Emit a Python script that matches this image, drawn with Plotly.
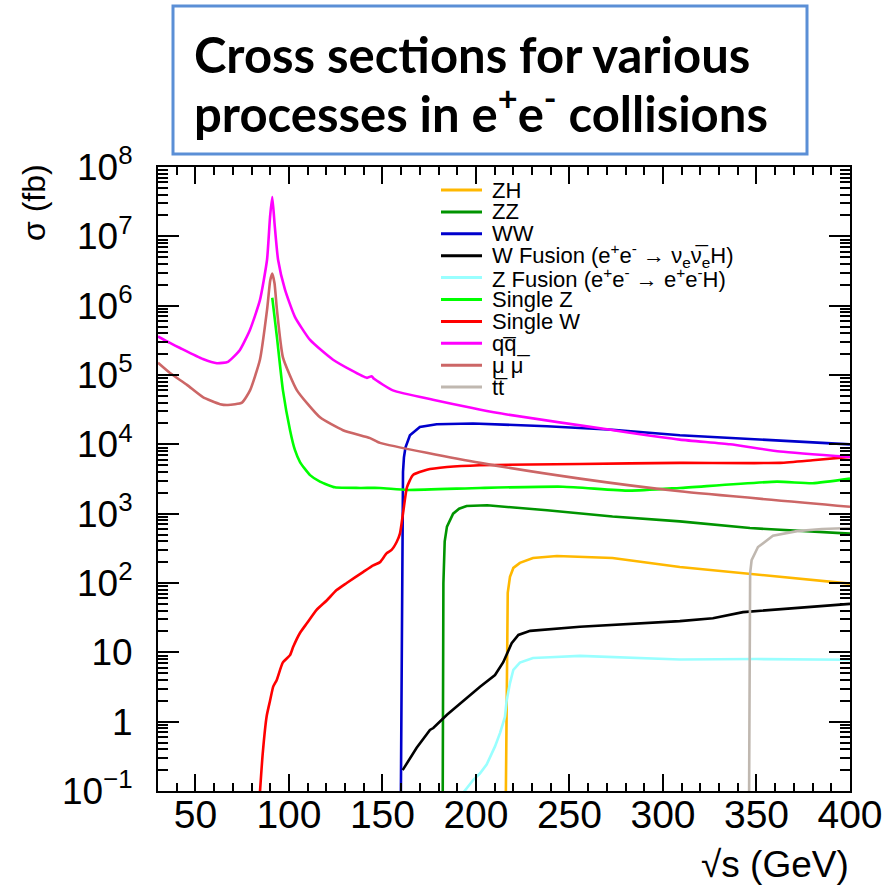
import plotly.graph_objects as go

# ---------------- data ----------------
zh_x = [215.9, 216.2, 216.6, 217.0, 218.2, 220.0, 223.5, 230.5, 243.3, 273.0, 309.0, 346.5, 400.0]
zh_y = [0.05, 1.0, 20, 72, 123, 165, 195, 229, 245, 229, 170, 135, 98]

zz_x = [182.2, 182.4, 182.6, 183.3, 184.5, 187.8, 191.0, 195.0, 206.0, 238.0, 273.0, 309.0, 346.5, 400.0]
zz_y = [0.05, 10, 100, 400, 650, 1000, 1180, 1290, 1320, 1120, 910, 775, 620, 515]

ww_x = [159.8, 160.1, 160.4, 160.7, 161.0, 161.5, 162.3, 164.7, 170.0, 179.0, 198.4, 238.0, 273.0, 309.0, 362.6, 400.0]
ww_y = [0.05, 1.0, 100, 2000, 4000, 6500, 9000, 13500, 17800, 19500, 20000, 18200, 16200, 13500, 11200, 10000]

wfus_x = [160.8, 166.3, 168.3, 175.4, 177.2, 184.5, 193.2, 202.2, 210.2, 214.6, 219.1, 222.7, 229.0,
          255.6, 309.0, 326.7, 342.8, 362.6, 384.0, 400.0]
wfus_y = [0.2, 0.35, 0.42, 0.76, 0.81, 1.26, 2.0, 3.2, 4.7, 7.2, 13.5, 17.8, 20.4,
          23.4, 28.2, 31.0, 38.0, 41.7, 46.8, 50.0]

zfus_x = [192.6, 198.6, 202.2, 205.7, 210.2, 212.9, 215.5, 216.4, 218.2, 220.0, 223.5, 230.5, 239.6,
          255.6, 309.0, 350.0, 400.0]
zfus_y = [0.09, 0.145, 0.18, 0.24, 0.44, 0.69, 1.17, 2.0, 3.6, 5.6, 7.1, 8.3, 8.5,
          8.9, 7.9, 8.0, 7.8]

sz_x = [91.1, 93.6, 96.8, 100.6, 103.2, 106.0, 111.3, 116.6, 124.6, 138.0, 148.7, 163.0, 202.0,
        246.5, 282.0, 309.0, 361.0, 380.0, 400.0]
sz_y = [1.3e6, 3.5e5, 6.0e4, 1.6e4, 8.3e3, 5.5e3, 3.6e3, 2.9e3, 2.4e3, 2.35e3, 2.35e3, 2.2e3, 2.35e3,
        2.45e3, 2.15e3, 2.35e3, 2.9e3, 2.75e3, 3.2e3]

sw_x = [83.8, 86.0, 88.1, 89.9, 91.6, 93.5, 96.7, 100.6, 102.3, 105.9, 109.5, 114.8, 120.2, 125.5,
        130.9, 139.8, 145.1, 148.7, 152.3, 154.9, 157.6, 159.4, 161.2, 163.1, 166.3, 173.8,
        184.5, 202.0, 255.6, 309.0, 362.6, 380.0, 400.0]
sw_y = [0.05, 0.35, 1.2, 2.0, 3.2, 4.0, 7.1, 9.1, 12, 19, 26, 41, 56, 79,
        100, 145, 180, 200, 270, 300, 390, 520, 1100, 2400, 3600, 4300,
        4700, 5000, 5200, 5400, 5400, 5900, 6600]

qq_x = [30.0, 36.4, 41.8, 54.0, 61.5, 67.4, 73.8, 79.2, 84.5, 88.3, 89.9, 91.1, 92.3, 94.2, 97.9,
        103.2, 111.3, 123.6, 141.7, 144.2, 145.5, 155.6, 177.0, 212.9, 273.3, 309.0, 335.8, 362.6, 400.0]
qq_y = [3.6e5, 2.9e5, 2.45e5, 1.7e5, 1.48e5, 1.55e5, 2.3e5, 4.5e5, 1.2e6, 4.6e6, 1.9e7, 3.7e7, 1.55e7,
        4.6e6, 1.7e6, 6.9e5, 3.2e5, 1.66e5, 9.1e4, 9.6e4, 8.8e4, 6.0e4, 4.4e4, 2.8e4, 1.6e4, 1.17e4,
        1.0e4, 7.9e3, 6.6e3]

mm_x = [30.0, 36.4, 45.5, 54.0, 63.2, 67.4, 74.9, 79.2, 84.5, 88.3, 90.0, 91.1, 92.3, 93.6, 96.8,
        104.3, 116.6, 128.9, 143.4, 148.7, 202.2, 255.6, 309.0, 400.0]
mm_y = [1.5e5, 1.07e5, 7.2e4, 4.8e4, 3.8e4, 3.7e4, 4.0e4, 6.0e4, 1.66e5, 8.7e5, 2.3e6, 2.9e6, 2.1e6,
        8.7e5, 1.8e5, 6.0e4, 2.45e4, 1.6e4, 1.23e4, 1.05e4, 5.4e3, 3.2e3, 2.1e3, 1.26e3]

tt_x = [346.0, 346.2, 346.4, 346.6, 347.4, 350.8, 358.8, 371.7, 385.0, 400.0]
tt_y = [0.05, 10, 100, 138, 214, 330, 480, 560, 600, 620]

series_names = [
    "ZH", "ZZ", "WW",
    "W Fusion (e<sup>+</sup>e<sup>-</sup> \u2192 \u03bd<sub>e</sub>\u03bd\u0305<sub>e</sub>H)",
    "Z Fusion (e<sup>+</sup>e<sup>-</sup> \u2192 e<sup>+</sup>e<sup>-</sup>H)",
    "Single Z", "Single W", "qq\u0305", "\u03bc \u03bc\u0305", "tt\u0305",
]
series_x = [zh_x, zz_x, ww_x, wfus_x, zfus_x, sz_x, sw_x, qq_x, mm_x, tt_x]
series_y = [zh_y, zz_y, ww_y, wfus_y, zfus_y, sz_y, sw_y, qq_y, mm_y, tt_y]

ytick_vals = [0.1, 1, 10, 1e2, 1e3, 1e4, 1e5, 1e6, 1e7, 1e8]
ytick_text = ["10<sup>\u22121</sup>", "1", "10", "10<sup>2</sup>", "10<sup>3</sup>",
              "10<sup>4</sup>", "10<sup>5</sup>", "10<sup>6</sup>", "10<sup>7</sup>", "10<sup>8</sup>"]

# ---------------- styles ----------------
colors = ["#FFB800", "#009400", "#0000CC", "#000000", "#99FFFF",
          "#00FF00", "#FF0000", "#FF00FF", "#CC6666", "#C0B8B0"]
smooth = [False, False, False, False, False, True, True, True, True, False]

W, H = 889, 889
L, R, T, B = 158, 850, 167, 791   # plot area in pixels


def pxx(px):
    return (px - L) / (R - L)


def pxy(py):
    return (B - py) / (B - T)


fig = go.Figure()
for name, xs, ys, c, sm in zip(series_names, series_x, series_y, colors, smooth):
    line = dict(color=c, width=2.6)
    if sm:
        line.update(shape="spline", smoothing=0.5)
    fig.add_trace(go.Scatter(x=xs, y=ys, mode="lines", name=name,
                             line=line, showlegend=False, hoverinfo="skip"))

font_main = "Liberation Sans, Arial, Helvetica, sans-serif"

fig.update_layout(
    width=W, height=H,
    margin=dict(l=L, r=W - R, t=T, b=H - B, autoexpand=False),
    paper_bgcolor="white", plot_bgcolor="white",
    showlegend=False,
    font=dict(family=font_main, color="black"),
)

fig.update_xaxes(
    range=[30, 400], tick0=0, dtick=50,
    ticks="inside", ticklen=17, tickwidth=1.5, tickcolor="black",
    minor=dict(dtick=10, ticks="inside", ticklen=8, tickwidth=1.5, tickcolor="black", showgrid=False),
    showline=True, linewidth=2, linecolor="black", mirror="allticks",
    showgrid=False, zeroline=False,
    tickfont=dict(size=39, family=font_main, color="black"),
    ticklabelstandoff=-12,
)
fig.update_yaxes(
    type="log", range=[-1, 8],
    tickmode="array", tickvals=ytick_vals, ticktext=ytick_text,
    ticks="inside", ticklen=21, tickwidth=1.5, tickcolor="black",
    minor=dict(dtick="D1", ticks="inside", ticklen=10, tickwidth=1.5, tickcolor="black", showgrid=False),
    showline=True, linewidth=2, linecolor="black", mirror="allticks",
    showgrid=False, zeroline=False,
    tickfont=dict(size=37, family=font_main, color="black"),
    ticklabelstandoff=16,
)

# axis titles (ROOT style, right/top aligned)
fig.add_annotation(x=pxx(851), y=pxy(864), xref="paper", yref="paper",
                   text="\u221as (GeV)", showarrow=False, xanchor="right", yanchor="middle",
                   font=dict(size=37, family=font_main, color="black"))
fig.add_annotation(x=pxx(34), y=pxy(203), xref="paper", yref="paper",
                   text="\u03c3 (fb)", showarrow=False, textangle=-90,
                   xanchor="center", yanchor="middle",
                   font=dict(size=32, family=font_main, color="black"))

# legend (drawn manually to match ROOT's compact spacing)
leg_x0, leg_x1, leg_tx = 441, 482, 490
leg_y0, leg_dy = 190, 21.9
for i, (name, c) in enumerate(zip(series_names, colors)):
    yy = leg_y0 + i * leg_dy
    fig.add_shape(type="line", xref="paper", yref="paper",
                  x0=pxx(leg_x0), x1=pxx(leg_x1), y0=pxy(yy), y1=pxy(yy),
                  line=dict(color=c, width=3))
    fig.add_annotation(x=pxx(leg_tx), y=pxy(yy), xref="paper", yref="paper",
                       text=name, showarrow=False, xanchor="left", yanchor="middle",
                       font=dict(size=22, family=font_main, color="black"))

# title box
fig.add_shape(type="rect", xref="paper", yref="paper",
              x0=pxx(173), x1=pxx(807), y0=pxy(154), y1=pxy(6),
              line=dict(color="#5B8FD6", width=3), fillcolor="white", layer="above")
title_font = "Lato, Roboto, sans-serif"
fig.add_annotation(x=pxx(192), y=pxy(54), xref="paper", yref="paper",
                   text="<b>Cross sections for various</b>", showarrow=False,
                   xanchor="left", yanchor="middle",
                   font=dict(size=49, family=title_font, color="black"))
fig.add_annotation(x=pxx(192), y=pxy(109), xref="paper", yref="paper",
                   text="<b>processes in e<sup>+</sup>e<sup>-</sup> collisions</b>", showarrow=False,
                   xanchor="left", yanchor="middle",
                   font=dict(size=49, family=title_font, color="black"))

fig.write_html("out.html")
